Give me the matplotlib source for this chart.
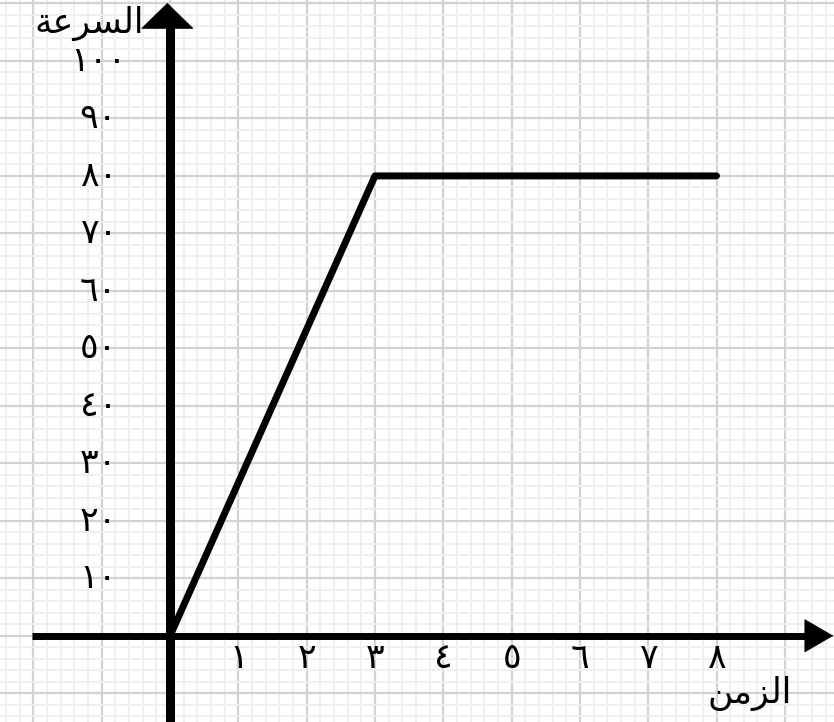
import matplotlib.pyplot as plt
from matplotlib.ticker import MultipleLocator

# time (hours) against speed
time = [0, 3, 8]
speed = [0, 80, 80]

x_ticks = [1, 2, 3, 4, 5, 6, 7, 8]
x_labels = ["١", "٢", "٣", "٤", "٥", "٦", "٧", "٨"]
y_ticks = [10, 20, 30, 40, 50, 60, 70, 80, 90, 100]
y_labels = ["١٠", "٢٠", "٣٠", "٤٠", "٥٠", "٦٠", "٧٠", "٨٠", "٩٠", "١٠٠"]

# matplotlib does no Arabic shaping, so the words use presentation forms in visual order
speed_title = "\ufe94\ufecb\ufeae\ufeb4\ufedf\ufe8d"  # السرعة
time_title = "\ufee6\ufee3\ufeb0\ufedf\ufe8d"  # الزمن

plt.rcParams['font.family'] = ['DejaVu Sans']

fig = plt.figure(figsize=(8.34, 7.22), dpi=100)
ax = fig.add_axes([0, 0, 1, 1])
ax.set_xlim(-2.49, 9.72)
ax.set_ylim(-15.0, 110.6)

# graph paper
ax.xaxis.set_major_locator(MultipleLocator(1))
ax.xaxis.set_minor_locator(MultipleLocator(0.2))
ax.yaxis.set_major_locator(MultipleLocator(10))
ax.yaxis.set_minor_locator(MultipleLocator(2))
ax.grid(which='major', color='#d2d2d2', lw=1.6)
ax.grid(which='minor', color='#eeeeee', lw=1.3)
ax.tick_params(which='both', length=0, labelbottom=False, labelleft=False)
for s in ax.spines.values():
    s.set_visible(False)
ax.set_axisbelow(True)

# axis shafts
ax.plot([-2.02, 9.3], [0, 0], color="black", lw=5, solid_capstyle="butt", zorder=3)
ax.plot([0, 0], [-15.5, 107.0], color="black", lw=6.5, solid_capstyle="butt", zorder=3)

# arrow heads
ax.annotate("", xy=(9.71, 0), xytext=(9.0, 0),
            arrowprops=dict(arrowstyle="-|>,head_length=0.5,head_width=0.29",
                            lw=0.5, color="black", mutation_scale=40,
                            shrinkA=0, shrinkB=0), zorder=4)
ax.annotate("", xy=(-0.04, 110.1), xytext=(-0.04, 100.0),
            arrowprops=dict(arrowstyle="-|>,head_length=0.45,head_width=0.46",
                            lw=0.5, color="black", mutation_scale=40,
                            shrinkA=0, shrinkB=0), zorder=4)

ax.plot(time, speed, color="black", lw=5, solid_capstyle="round",
        solid_joinstyle="round", zorder=5)

for x, lab in zip(x_ticks, x_labels):
    ax.text(x, -3.8, lab, ha="center", va="center", fontsize=25)
for y, lab in zip(y_ticks, y_labels):
    ax.text(-1.05, y, lab, ha="center", va="center", fontsize=25)

ax.text(-1.19, 106.6, speed_title, ha="center", va="center", fontsize=25)
ax.text(8.49, -10.0, time_title, ha="center", va="center", fontsize=25)

fig.savefig("out.png", dpi=100)
